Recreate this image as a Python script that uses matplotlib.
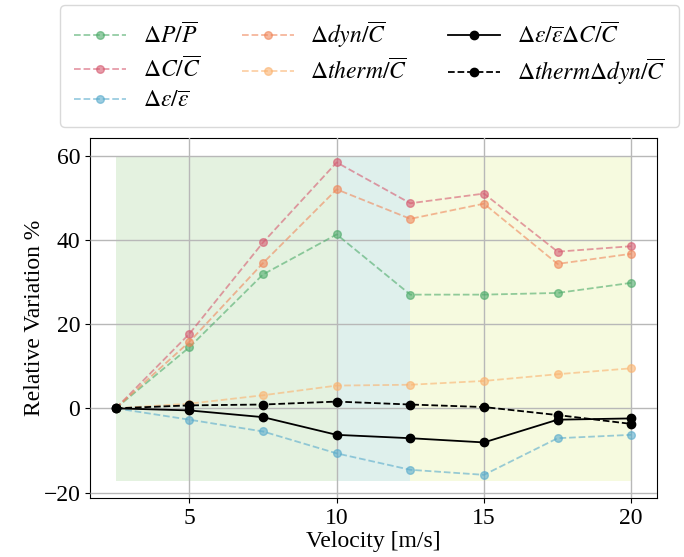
import matplotlib
matplotlib.use("Agg")
import matplotlib.pyplot as plt

plt.rcParams["font.family"] = "serif"
plt.rcParams["font.serif"] = ["Liberation Serif", "DejaVu Serif"]
plt.rcParams["mathtext.fontset"] = "stix"

velocity = [2.5, 5, 7.5, 10, 12.5, 15, 17.5, 20]

dP_P = [0, 14.5, 31.8, 41.3, 27.0, 27.0, 27.4, 29.8]
dC_C = [0, 17.7, 39.4, 58.4, 48.7, 51.0, 37.2, 38.5]
deps_eps = [0, -2.7, -5.5, -10.7, -14.6, -15.8, -7.1, -6.3]
ddyn_C = [0, 15.8, 34.5, 52.0, 45.0, 48.6, 34.3, 36.7]
dtherm_C = [0, 1.1, 3.1, 5.4, 5.6, 6.5, 8.1, 9.5]
deps_dC = [0, -0.5, -2.1, -6.3, -7.1, -8.1, -2.7, -2.4]
dtherm_ddyn = [0, 0.7, 0.9, 1.6, 0.9, 0.3, -1.6, -3.7]

labels = [
    r"$\Delta P/\overline{P}$",
    r"$\Delta C/\overline{C}$",
    r"$\Delta \varepsilon/\overline{\varepsilon}$",
    r"$\Delta dyn/\overline{C}$",
    r"$\Delta therm/\overline{C}$",
    r"$\Delta \varepsilon/\overline{\varepsilon}\Delta C/\overline{C}$",
    r"$\Delta therm\Delta dyn/\overline{C}$",
]

# shaded regimes: (start, end, colour)
regimes_start = [2.5, 10, 12.5]
regimes_end = [10, 12.5, 20]
regime_colors = ["#e4f2e0", "#dff0ec", "#f6fadf"]
band_low, band_high = -17.2, 60

fig = plt.figure(figsize=(6.84, 5.57), dpi=100)
ax = fig.add_axes([90 / 684, 1 - 498 / 557, (657 - 90) / 684, (498 - 138) / 557])

for x0, x1, c in zip(regimes_start, regimes_end, regime_colors):
    ax.fill_between([x0, x1], band_low, band_high, color=c, lw=0, zorder=0)

colored = [
    (dP_P, "#4dab6a"),
    (dC_C, "#d65a70"),
    (deps_eps, "#58abcc"),
    (ddyn_C, "#f0875a"),
    (dtherm_C, "#fbb26e"),
]
for (vals, c), lab in zip(colored, labels[:5]):
    ax.plot(velocity, vals, "--", color=c, alpha=0.6, marker="o", ms=5.5,
            lw=1.3, label=lab, zorder=3)

ax.plot(velocity, deps_dC, "-", color="black", marker="o", ms=6, lw=1.3,
        label=labels[5], zorder=4)
ax.plot(velocity, dtherm_ddyn, "--", color="black", marker="o", ms=6, lw=1.3,
        label=labels[6], zorder=4)

ax.grid(True, color="#b8b8b8", lw=1.0, zorder=1)
ax.set_axisbelow(False)
for gl in ax.get_xgridlines() + ax.get_ygridlines():
    gl.set_zorder(1)

ax.set_xticks([5, 10, 15, 20])
ax.set_yticks([-20, 0, 20, 40, 60])
ax.tick_params(labelsize=17)
ax.set_xlabel("Velocity [m/s]", fontsize=17, labelpad=2)
ax.set_ylabel("Relative Variation %", fontsize=17, labelpad=-1)
ax.set_xlim(1.625, 20.875)
ax.set_ylim(-21.3, 64.2)

handles, labs = ax.get_legend_handles_labels()
leg = fig.legend(handles, labs, loc="upper left", bbox_to_anchor=(60 / 684, 1 - 5 / 557),
                 ncol=3, fontsize=17, frameon=True, borderaxespad=0, borderpad=0.6,
                 handlelength=2.2, handletextpad=0.7, columnspacing=1.75,
                 labelspacing=0.36)
leg.get_frame().set_edgecolor("#d0d0d0")

fig.savefig("out.png", dpi=100)
